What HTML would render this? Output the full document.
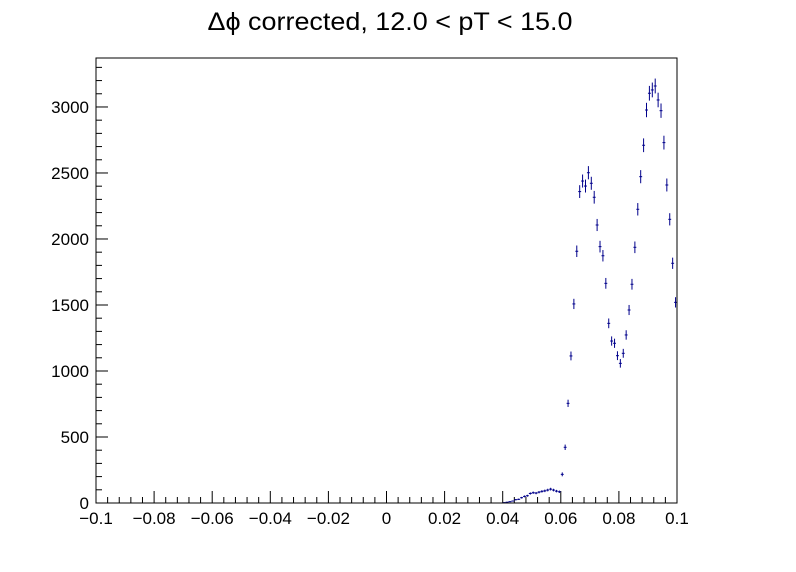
<!DOCTYPE html>
<html><head><meta charset="utf-8"><style>
body{margin:0;background:#fff;}
svg{display:block;font-family:"Liberation Sans",sans-serif;}
</style></head><body>
<svg id="chart" width="796" height="572" viewBox="0 0 796 572">
<rect width="796" height="572" fill="#fff"/>
<text x="390" y="30" font-size="25" text-anchor="middle" textLength="365" lengthAdjust="spacingAndGlyphs">Δϕ corrected, 12.0 &lt; pT &lt; 15.0</text>
<g id="axes"></g>
<g id="marks"></g>
<rect x="96" y="58" width="581" height="445" fill="none" stroke="#000" stroke-width="1"/>
</svg>
<script>
const binCenters = [0.0405,0.0415,0.0425,0.0435,0.0445,0.0455,0.0465,0.0475,0.0485,0.0495,0.0505,0.0515,0.0525,0.0535,0.0545,0.0555,0.0565,0.0575,0.0585,0.0595,
0.0605,0.0615,0.0625,0.0635,0.0645,0.0655,0.0665,0.0675,0.0685,0.0695,0.0705,0.0715,0.0725,0.0735,0.0745,0.0755,0.0765,0.0775,0.0785,0.0795,
0.0805,0.0815,0.0825,0.0835,0.0845,0.0855,0.0865,0.0875,0.0885,0.0895,0.0905,0.0915,0.0925,0.0935,0.0945,0.0955,0.0965,0.0975,0.0985,0.0995];
const counts = [3,6,10,15,25,28,40,50,55,72,78,75,82,88,92,98,105,98,90,85,
217,422,755,1114,1508,1907,2359,2439,2401,2502,2422,2316,2106,1942,1873,1664,1361,1227,1210,1116,
1058,1134,1273,1462,1657,1937,2225,2472,2710,2977,3104,3129,3159,3053,2972,2730,2409,2149,1816,1520];
const xTicks = [-0.1,-0.08,-0.06,-0.04,-0.02,0,0.02,0.04,0.06,0.08,0.1];
const xTickLabels = ["−0.1","−0.08","−0.06","−0.04","−0.02","0","0.02","0.04","0.06","0.08","0.1"];
const yTicks = [0,500,1000,1500,2000,2500,3000];
const yTickLabels = ["0","500","1000","1500","2000","2500","3000"];

const X0=96,X1=677,Y0=503,YT=58;
const xMin=-0.1,xMax=0.1,yMin=0,yMax=3371;
const binW=0.001;
function sx(v){return X0+(v-xMin)/(xMax-xMin)*(X1-X0);}
function sy(v){return Y0-(v-yMin)/(yMax-yMin)*(Y0-YT);}
const NS="http://www.w3.org/2000/svg";
const axes=document.getElementById('axes'), marks=document.getElementById('marks');
function line(p,x1,y1,x2,y2,c,w){const l=document.createElementNS(NS,'line');l.setAttribute('x1',x1);l.setAttribute('y1',y1);l.setAttribute('x2',x2);l.setAttribute('y2',y2);l.setAttribute('stroke',c);l.setAttribute('stroke-width',w);p.appendChild(l);return l;}
function text(p,x,y,s,anchor){const t=document.createElementNS(NS,'text');t.setAttribute('x',x);t.setAttribute('y',y);t.setAttribute('font-size','17');t.setAttribute('text-anchor',anchor);t.textContent=s;p.appendChild(t);return t;}
for(let i=0;i<=50;i++){const v=xMin+i*0.004;const x=sx(v);const major=i%5===0;
 const l=line(axes,x,Y0,x,Y0-(major?12:6),'#000',1);
 
 }
xTicks.forEach((v,i)=>{const t=text(axes,sx(v),524,xTickLabels[i],'middle');
 
 });
for(let v=0;v<=yMax;v+=100){const y=sy(v);const major=v%500===0;
 const l=line(axes,X0,y,X0+(major?12:6),y,'#000',1);
 
 }
yTicks.forEach((v,i)=>{const t=text(axes,89,sy(v)+6,yTickLabels[i],'end');
 
 });
binCenters.forEach((c,i)=>{const v=counts[i];const e=Math.sqrt(v);
 const g=document.createElementNS(NS,'g');
 
 
 line(g,sx(c-binW/2),sy(v),sx(c+binW/2),sy(v),'#00008b',1);
 line(g,sx(c),sy(v+e),sx(c),sy(Math.max(0,v-e)),'#00008b',1);
 marks.appendChild(g);});
</script>
</body></html>
